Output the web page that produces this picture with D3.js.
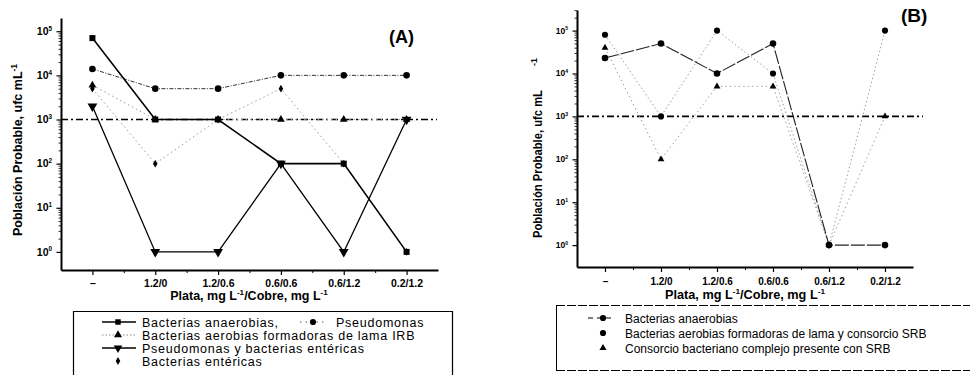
<!DOCTYPE html>
<html>
<head>
<meta charset="utf-8">
<script src="https://d3js.org/d3.v7.min.js"></script>
<style>
  body { margin: 0; background: #fff; }
  svg { display: block; font-family: "Liberation Sans", Arial, sans-serif; }
</style>
</head>
<body>
<script>
// categories (Plata / Cobre, mg L-1)
const categories = ["–", "1.2/0", "1.2/0.6", "0.6/0.6", "0.6/1.2", "0.2/1.2"];
const decades = [1, 10, 100, 1000, 10000, 100000];
const limit = 1000;

// panel A
const anaerobiasA = [7e4, 1e3, 1e3, 1e2, 1e2, 1];
const pseudomonasA = [1.4e4, 5e3, 5e3, 1e4, 1e4, 1e4];
const irbA = [6e3, 1e3, 1e3, 1e3, 1e3, 1e3];
const pseudoEntericasA = [2e3, 1, 1, 1e2, 1, 1e3];
const entericasA = [5e3, 1e2, 1e3, 5e3, 1e2, 1];

// panel B
const anaerobiasB = [2.3e4, 5e4, 1e4, 5e4, 1, 1];
const aerobiasSrbB = [8e4, 1e3, 1e5, 1e4, 1, 1e5];
const consorcioB = [4e4, 1e2, 5e3, 5e3, 1, 1e3];

const width = 970, height = 375;
const svg = d3.select("body").append("svg").attr("width", width).attr("height", height);

const sym = {
  square: d3.symbol().type(d3.symbolSquare),
  circle: d3.symbol().type(d3.symbolCircle),
  triangle: d3.symbol().type(d3.symbolTriangle),
  diamond: d3.symbol().type(d3.symbolDiamond)
};

function supText(g, x, y, base, sup, opts) {
  const t = g.append("text").attr("x", x).attr("y", y)
    .attr("font-size", opts.size).attr("font-weight", opts.weight || "bold")
    .attr("text-anchor", opts.anchor || "start").attr("fill", "#000");
  t.append("tspan").text(base);
  t.append("tspan").attr("font-size", opts.size * 0.6).attr("dy", -opts.size * 0.4).text(sup);
  return t;
}

function drawPanel(p) {
  const g = svg.append("g");
  const x = d3.scaleLinear().domain([-0.5, 5.5]).range(p.xRange);
  const y = d3.scaleLog().domain(p.yDomain).range(p.yRange);

  // y axis: majors + minors
  const minors = [];
  decades.forEach(d => { for (let k = 2; k <= 9; k++) if (d * k < p.yDomain[1]) minors.push(d * k); });
  g.append("g").attr("transform", `translate(${p.xRange[0]},0)`)
    .call(d3.axisLeft(y).tickValues(minors).tickSize(2.5).tickFormat(""))
    .call(a => a.select(".domain").remove())
    .selectAll("line").attr("stroke", "#000").attr("stroke-width", 0.8);
  g.append("g").attr("transform", `translate(${p.xRange[0]},0)`)
    .call(d3.axisLeft(y).tickValues(decades).tickSize(4.5).tickSizeOuter(0).tickFormat(""))
    .call(a => a.select(".domain").attr("stroke-width", 2))
    .selectAll("line").attr("stroke", "#000").attr("stroke-width", 1.2);
  decades.forEach((d, i) => {
    supText(g, p.xRange[0] - 9, y(d) + p.tickSize * 0.35, "10", String(i), { size: p.tickSize, anchor: "end" });
  });

  // x axis: minor ticks between categories, major ticks at categories
  g.append("g").attr("transform", `translate(0,${p.yRange[0]})`)
    .call(d3.axisBottom(x).tickValues(d3.range(0.5, 5.5, 1)).tickSize(3).tickFormat(""))
    .call(a => a.select(".domain").remove())
    .selectAll("line").attr("stroke", "#000").attr("stroke-width", 1);
  g.append("g").attr("transform", `translate(0,${p.yRange[0]})`)
    .call(d3.axisBottom(x).tickValues(d3.range(6)).tickSize(5).tickSizeOuter(0).tickFormat(i => categories[i]))
    .call(a => a.select(".domain").attr("stroke-width", 2))
    .call(a => a.selectAll("line").attr("stroke", "#000").attr("stroke-width", 1.2))
    .call(a => a.selectAll("text").attr("font-size", p.catSize).attr("font-weight", "bold")
      .attr("fill", "#000").attr("dy", p.catDy));

  // reference line at 10^3
  g.append("line").attr("x1", p.xRange[0]).attr("x2", p.refEnd)
    .attr("y1", y(limit)).attr("y2", y(limit))
    .attr("stroke", "#000").attr("stroke-width", 1.6).attr("stroke-dasharray", "7,3,2,3");

  // series
  const line = d3.line().defined(d => d != null).x((d, i) => x(i)).y(d => y(d));
  p.series.forEach(s => {
    g.append("path").attr("d", line(s.values)).attr("fill", "none")
      .attr("stroke", s.stroke).attr("stroke-width", s.width)
      .attr("stroke-dasharray", s.dash || null);
  });
  p.series.forEach(s => {
    g.selectAll(null).data(s.values).join("path")
      .attr("transform", (d, i) => `translate(${x(i)},${y(d)})${s.rotate ? " rotate(180)" : ""}`)
      .attr("d", sym[s.symbol].size(s.size)())
      .attr("fill", "#000");
  });

  // panel letter
  g.append("text").attr("x", p.letter.x).attr("y", p.letter.y).attr("font-size", p.letter.size)
    .attr("font-weight", "bold").attr("fill", "#000").text(p.letter.text);

  // x title
  const xt = g.append("text").attr("x", p.xTitle.x).attr("y", p.xTitle.y).attr("text-anchor", "middle")
    .attr("font-size", p.xTitle.size).attr("font-weight", "bold").attr("fill", "#000");
  if (p.xTitle.len) xt.attr("textLength", p.xTitle.len).attr("lengthAdjust", "spacingAndGlyphs");
  xt.append("tspan").text("Plata, mg L");
  xt.append("tspan").attr("font-size", p.xTitle.size * 0.65).attr("dy", -5).text("-1");
  xt.append("tspan").attr("dy", 5).text("/Cobre, mg L");
  xt.append("tspan").attr("font-size", p.xTitle.size * 0.65).attr("dy", -5).text("-1");

  return { x, y, g };
}

// ---------- Panel A ----------
const A = drawPanel({
  xRange: [61, 438], yDomain: [Math.pow(10, -0.41), Math.pow(10, 5.3)], yRange: [270, 18],
  tickSize: 10.5, catSize: 10.5, catDy: "0.85em", refEnd: 437,
  series: [
    { values: entericasA, stroke: "#9a9a9a", width: 1, dash: "1.5,3", symbol: "diamond", size: 18 },
    { values: irbA, stroke: "#9a9a9a", width: 1, dash: "1.5,3", symbol: "triangle", size: 26 },
    { values: pseudomonasA, stroke: "#333", width: 1, dash: "4,1.5,1,1.5", symbol: "circle", size: 34 },
    { values: anaerobiasA, stroke: "#000", width: 1.6, symbol: "square", size: 36 },
    { values: pseudoEntericasA, stroke: "#000", width: 1.3, symbol: "triangle", size: 42, rotate: true }
  ],
  letter: { x: 389, y: 43, size: 18, text: "(A)" },
  xTitle: { x: 249, y: 300, size: 12.5 }
});
A.g.append("text").attr("transform", "translate(22,150) rotate(-90)").attr("text-anchor", "middle")
  .attr("font-size", 12.5).attr("font-weight", "bold").attr("fill", "#000")
  .call(t => { t.append("tspan").text("Población Probable, ufc mL");
    t.append("tspan").attr("font-size", 8.5).attr("dy", -5).text("-1"); });

// legend A
const legA = svg.append("g");
legA.append("path").attr("d", "M73.5,380 V311.5 H452.5 V380").attr("fill", "none").attr("stroke", "#000").attr("stroke-width", 1.2);
const legAItems = [
  { text: "Bacterias anaerobias,", stroke: "#000", width: 1.4, symbol: "square", size: 30 },
  { text: "Bacterias aerobias formadoras de lama IRB", stroke: "#888", width: 1, dash: "1.5,2", symbol: "triangle", size: 28 },
  { text: "Pseudomonas y bacterias entéricas", stroke: "#000", width: 1.4, symbol: "triangle", size: 32, rotate: true },
  { text: "Bacterias entéricas", symbol: "diamond", size: 18 }
];
legAItems.forEach((d, i) => {
  const cy = 322 + i * 13;
  if (d.stroke) legA.append("line").attr("x1", 102).attr("x2", 136).attr("y1", cy).attr("y2", cy)
    .attr("stroke", d.stroke).attr("stroke-width", d.width).attr("stroke-dasharray", d.dash || null);
  legA.append("path").attr("transform", `translate(118,${cy})${d.rotate ? " rotate(180)" : ""}`)
    .attr("d", sym[d.symbol].size(d.size)()).attr("fill", "#000");
  legA.append("text").attr("x", 142).attr("y", cy + 4.5).attr("font-size", 12.5)
    .attr("letter-spacing", 0.75).attr("fill", "#000").text(d.text);
});
legA.append("line").attr("x1", 300).attr("x2", 326).attr("y1", 322).attr("y2", 322)
  .attr("stroke", "#555").attr("stroke-width", 1).attr("stroke-dasharray", "1.5,4");
legA.append("path").attr("transform", "translate(313,322)").attr("d", sym.circle.size(30)()).attr("fill", "#000");
legA.append("text").attr("x", 336).attr("y", 326.5).attr("font-size", 12.5).attr("letter-spacing", 0.75)
  .attr("fill", "#000").text("Pseudomonas");

// ---------- Panel B ----------
const B = drawPanel({
  xRange: [577, 913], yDomain: [Math.pow(10, -0.51), Math.pow(10, 5.48)], yRange: [267, 10],
  tickSize: 8.5, catSize: 10, catDy: "1em", refEnd: 923,
  series: [
    { values: consorcioB, stroke: "#a0a0a0", width: 1, dash: "1.5,3", symbol: "triangle", size: 20 },
    { values: aerobiasSrbB, stroke: "#a0a0a0", width: 1, dash: "1.5,2.5", symbol: "circle", size: 30 },
    { values: anaerobiasB, stroke: "#222", width: 1.1, dash: "14,2", symbol: "circle", size: 34 }
  ],
  letter: { x: 901, y: 22, size: 19, text: "(B)" },
  xTitle: { x: 745, y: 299, size: 12.5, len: 160 }
});
B.g.append("text").attr("transform", "translate(542,164) rotate(-90)").attr("text-anchor", "middle")
  .attr("font-size", 13).attr("font-weight", "bold").attr("fill", "#000")
  .attr("textLength", 148).attr("lengthAdjust", "spacingAndGlyphs")
  .text("Población Probable, ufc mL");
B.g.append("text").attr("transform", "translate(537,62) rotate(-90)").attr("text-anchor", "middle")
  .attr("font-size", 9).attr("font-weight", "bold").attr("fill", "#000").text("-1");

// legend B
const legB = svg.append("g");
legB.append("line").attr("x1", 556).attr("x2", 970).attr("y1", 305.5).attr("y2", 305.5)
  .attr("stroke", "#000").attr("stroke-width", 1).attr("stroke-dasharray", "9,2");
legB.append("line").attr("x1", 556).attr("x2", 970).attr("y1", 370.5).attr("y2", 370.5)
  .attr("stroke", "#000").attr("stroke-width", 1).attr("stroke-dasharray", "9,2");
legB.append("line").attr("x1", 556.5).attr("x2", 556.5).attr("y1", 305).attr("y2", 371)
  .attr("stroke", "#000").attr("stroke-width", 1);
const legBItems = [
  { text: "Bacterias anaerobias", line: true, symbol: "circle", size: 30 },
  { text: "Bacterias aerobias formadoras de lama y consorcio SRB", symbol: "circle", size: 30 },
  { text: "Consorcio bacteriano complejo presente con SRB", symbol: "triangle", size: 22 }
];
legBItems.forEach((d, i) => {
  const cy = 318 + i * 15;
  if (d.line) legB.append("line").attr("x1", 588).attr("x2", 615).attr("y1", cy).attr("y2", cy)
    .attr("stroke", "#000").attr("stroke-width", 1.2).attr("stroke-dasharray", "5,4");
  legB.append("path").attr("transform", `translate(603,${cy})`).attr("d", sym[d.symbol].size(d.size)()).attr("fill", "#000");
  legB.append("text").attr("x", 625).attr("y", cy + 4.5).attr("font-size", 12)
    .attr("fill", "#000").text(d.text);
});
</script>
</body>
</html>
